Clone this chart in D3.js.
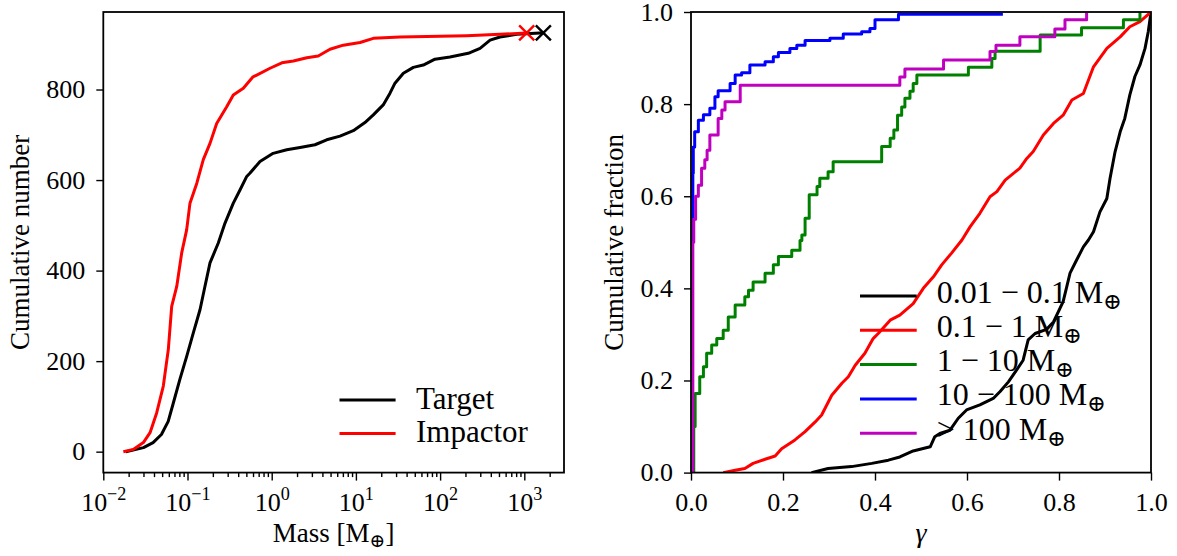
<!DOCTYPE html>
<html>
<head>
<meta charset="utf-8">
<script src="https://cdn.jsdelivr.net/npm/d3@7"></script>
<style>
body { margin: 0; background: #fff; }
svg, svg text { font-family: "Liberation Serif", "DejaVu Serif", serif; }
</style>
</head>
<body>
<div id="chart"></div>
<script>
// ---- left panel: cumulative number vs mass, [mass, count] ----
const targetCum = [[0.0185,0],[0.030,9],[0.039,20],[0.049,38],[0.059,67],[0.068,108],[0.081,159],[0.098,211],
  [0.117,262],[0.141,314],[0.161,365],[0.185,417],[0.232,461],[0.279,505],[0.350,549],[0.420,578],[0.505,608],
  [0.55,615],[0.726,641],[1.04,659],[1.51,667],[2.17,672],[3.27,678],[4.50,689],[6.47,697],[9.31,709],[12.8,727],
  [16.1,744],[21.1,766],[25.4,792],[29.1,814],[36.6,836],[48.1,849],[63.1,854],[86.9,867],[131,872],[216,880],
  [298,891],[392,909],[514,916],[813,922],[1535,925],[1683,925]]
const impactorCum = [[0.0173,0],[0.0227,5],[0.0299,20],[0.0359,42],[0.0431,86],[0.0516,145],[0.0592,226],
  [0.0649,321],[0.0745,365],[0.0853,439],[0.0977,490],[0.107,549],[0.129,593],[0.154,645],[0.185,681],[0.222,725],
  [0.292,762],[0.350,788],[0.460,803],[0.60,828],[0.664,832],[0.955,847],[1.32,859],[1.81,863],[2.61,870],
  [3.57,874],[4.92,889],[7.08,898],[11.2,904],[16.1,913],[33.4,916],[207,919],[514,922],[1067,925]]
const targetMax = [1683, 925]
const impactorMax = [1067, 925]
const massTicks = [-2, -1, 0, 1, 2, 3]
const countTicks = [0, 200, 400, 600, 800]
const massSeries = ["Target", "Impactor"]

// ---- right panel: cumulative fraction vs gamma, [gamma, fraction] ----
const gammaTicks = [0, 0.2, 0.4, 0.6, 0.8, 1.0]
const bin001 = [[0.262,0],[0.298,0.009],[0.349,0.013],[0.393,0.020],[0.429,0.027],[0.454,0.034],[0.483,0.047],
  [0.520,0.056],[0.530,0.078],[0.541,0.085],[0.563,0.092],[0.581,0.118],[0.599,0.136],[0.628,0.147],[0.657,0.161],
  [0.672,0.176],[0.690,0.197],[0.708,0.223],[0.722,0.244],[0.733,0.288],[0.748,0.302],[0.773,0.311],[0.788,0.327],
  [0.809,0.371],[0.824,0.433],[0.838,0.461],[0.853,0.490],[0.864,0.505],[0.875,0.523],[0.889,0.566],[0.904,0.595],
  [0.911,0.639],[0.922,0.697],[0.933,0.740],[0.943,0.769],[0.954,0.820],[0.965,0.860],[0.976,0.885],[0.987,0.921],
  [0.994,0.957],[1.0,1.0]]
const bin01 = [[0.070,0],[0.096,0.005],[0.117,0.009],[0.135,0.020],[0.161,0.029],[0.183,0.036],[0.197,0.052],
  [0.226,0.071],[0.248,0.089],[0.270,0.110],[0.284,0.125],[0.306,0.168],[0.328,0.194],[0.342,0.208],[0.357,0.233],
  [0.378,0.259],[0.396,0.291],[0.407,0.302],[0.433,0.331],[0.454,0.342],[0.483,0.367],[0.505,0.400],[0.527,0.425],
  [0.545,0.451],[0.566,0.476],[0.589,0.505],[0.607,0.534],[0.628,0.563],[0.650,0.599],[0.665,0.610],[0.683,0.635],
  [0.715,0.661],[0.730,0.682],[0.744,0.697],[0.766,0.733],[0.788,0.758],[0.809,0.776],[0.828,0.809],[0.853,0.823],
  [0.875,0.881],[0.904,0.921],[0.933,0.946],[0.954,0.968],[0.976,0.979],[1.0,1.0]]
const bin1 = [[0.005,0],[0.006,0.10],[0.009,0.172],[0.019,0.208],[0.027,0.230],[0.034,0.259],[0.045,0.277],
  [0.056,0.291],[0.070,0.309],[0.081,0.338],[0.096,0.364],[0.117,0.382],[0.125,0.396],[0.135,0.414],[0.161,0.433],
  [0.179,0.451],[0.190,0.469],[0.219,0.483],[0.237,0.504],[0.241,0.516],[0.248,0.552],[0.257,0.603],[0.274,0.621],
  [0.280,0.639],[0.298,0.653],[0.309,0.675],[0.4145,0.708],[0.433,0.726],[0.441,0.744],[0.449,0.776],[0.458,0.794],
  [0.465,0.813],[0.476,0.828],[0.483,0.845],[0.491,0.863],[0.603,0.880],[0.654,0.899],[0.661,0.915],[0.759,0.950],
  [0.849,0.966],[0.940,0.983],[0.976,1.0]]
const bin10 = [[0.002,0],[0.003,0.5],[0.004,0.65],[0.005,0.707],[0.008,0.74],[0.016,0.765],[0.027,0.777],
  [0.041,0.791],[0.052,0.816],[0.059,0.829],[0.085,0.845],[0.096,0.863],[0.110,0.868],[0.128,0.885],[0.161,0.892],
  [0.179,0.903],[0.190,0.912],[0.215,0.921],[0.230,0.928],[0.248,0.938],[0.302,0.943],[0.331,0.952],[0.371,0.957],
  [0.389,0.964],[0.400,0.983],[0.451,0.995],[0.678,0.995]]
const bin100 = [[0.003,0],[0.004,0.5],[0.006,0.55],[0.010,0.60],[0.016,0.624],[0.023,0.661],[0.030,0.679],
  [0.035,0.70],[0.041,0.733],[0.059,0.769],[0.067,0.787],[0.074,0.805],[0.107,0.841],[0.454,0.859],[0.465,0.876],
  [0.549,0.896],[0.650,0.914],[0.663,0.928],[0.715,0.946],[0.791,0.963],[0.813,0.983],[0.860,0.999]]
const binLabels = ["0.01 \u2212 0.1", "0.1 \u2212 1", "1 \u2212 10", "10 \u2212 100", "> 100"]
const binColors = ["#000000", "#ff0000", "#008000", "#0000ff", "#bf00bf"]

const W = 1177, H = 556
const plotTop = 12, plotBottom = 472.6
const serif = '"Liberation Serif", "DejaVu Serif", serif'

const svg = d3.select("#chart").append("svg")
    .attr("width", W)
    .attr("height", H)
    .attr("font-family", serif)

// writes "<prefix>M" followed by a subscript circled plus and an optional suffix
function earthMass(text, prefix, suffix, shift) {
    text.append("tspan").text(prefix + "M")
    text.append("tspan").attr("font-size", "70%").attr("dy", shift).text("\u2295")
    if (suffix) text.append("tspan").attr("dy", -shift).text(suffix)
}

function styleAxis(g) {
    g.attr("font-family", serif).attr("font-size", 26)
    g.select(".domain").remove()
    g.selectAll(".tick line").attr("stroke", "#000").attr("stroke-width", 1.4)
    g.selectAll(".tick text").attr("fill", "#000").attr("font-size", 26).attr("font-family", serif)
}

// ================= left panel =================
const xL = d3.scaleLog().domain([0.01, 2960]).range([103.3, 564])
const yL = d3.scaleLinear().domain([-46.25, 971.25]).range([plotBottom, plotTop])

svg.append("clipPath").attr("id", "clipL")
    .append("rect").attr("x", xL.range()[0]).attr("y", plotTop)
    .attr("width", xL.range()[1] - xL.range()[0]).attr("height", plotBottom - plotTop)

const minorMass = []
massTicks.forEach(e => { for (let k = 2; k <= 9; k++) { const v = k * Math.pow(10, e); if (v < 2960) minorMass.push(v) } })

svg.append("g")
    .attr("transform", "translate(0," + plotBottom + ")")
    .call(d3.axisBottom(xL).tickValues(minorMass).tickSize(4.5).tickFormat(""))
    .call(styleAxis)

const xAxisL = svg.append("g")
    .attr("transform", "translate(0," + plotBottom + ")")
    .call(d3.axisBottom(xL).tickValues(massTicks.map(e => Math.pow(10, e))).tickSize(8).tickPadding(12))
    .call(styleAxis)
xAxisL.selectAll(".tick text").each(function (d, i) {
    const t = d3.select(this).text(null).attr("dy", "0").attr("y", 38.5)
    t.append("tspan").text("10")
    t.append("tspan").attr("font-size", "70%").attr("dy", -11)
        .text(massTicks[i] < 0 ? "\u2212" + (-massTicks[i]) : String(massTicks[i]))
})

svg.append("g")
    .attr("transform", "translate(" + xL.range()[0] + ",0)")
    .call(d3.axisLeft(yL).tickValues(countTicks).tickSize(7).tickPadding(11))
    .call(styleAxis)

const lineL = d3.line().x(d => xL(d[0])).y(d => yL(d[1]))
const plotL = svg.append("g").attr("clip-path", "url(#clipL)")
plotL.append("path").datum(targetCum).attr("d", lineL)
    .attr("fill", "none").attr("stroke", "#000").attr("stroke-width", 3).attr("stroke-linejoin", "round")
plotL.append("path").datum(impactorCum).attr("d", lineL)
    .attr("fill", "none").attr("stroke", "#ff0000").attr("stroke-width", 3).attr("stroke-linejoin", "round")

const cross = d3.symbol().type(d3.symbolX).size(150)
svg.append("path").attr("d", cross)
    .attr("transform", "translate(" + xL(impactorMax[0]) + "," + yL(impactorMax[1]) + ")")
    .attr("stroke", "#ff0000").attr("stroke-width", 2.4).attr("fill", "none")
svg.append("path").attr("d", cross)
    .attr("transform", "translate(" + xL(targetMax[0]) + "," + yL(targetMax[1]) + ")")
    .attr("stroke", "#000").attr("stroke-width", 2.4).attr("fill", "none")

svg.append("rect")
    .attr("x", xL.range()[0]).attr("y", plotTop)
    .attr("width", xL.range()[1] - xL.range()[0]).attr("height", plotBottom - plotTop)
    .attr("fill", "none").attr("stroke", "#000").attr("stroke-width", 1.8)

const xLabL = svg.append("text")
    .attr("x", (xL.range()[0] + xL.range()[1]) / 2).attr("y", 541.5)
    .attr("text-anchor", "middle").attr("font-size", 27)
earthMass(xLabL, "Mass [", "]", 5)

svg.append("text")
    .attr("transform", "translate(29," + (plotTop + plotBottom) / 2 + ") rotate(-90)")
    .attr("text-anchor", "middle").attr("font-size", 27)
    .text("Cumulative number")

const legL = svg.append("g")
massSeries.forEach((name, i) => {
    const y = 400 + i * 33.5
    legL.append("line").attr("x1", 339.5).attr("x2", 395.6).attr("y1", y).attr("y2", y)
        .attr("stroke", i === 0 ? "#000" : "#ff0000").attr("stroke-width", 3)
    legL.append("text").attr("x", 416).attr("y", y + 8.5).attr("font-size", 31).text(name)
})

// ================= right panel =================
const xR = d3.scaleLinear().domain([0, 1]).range([691, 1151])
const yR = d3.scaleLinear().domain([0, 1]).range([plotBottom, plotTop])

svg.append("clipPath").attr("id", "clipR")
    .append("rect").attr("x", 691).attr("y", plotTop)
    .attr("width", 460).attr("height", plotBottom - plotTop)

svg.append("g")
    .attr("transform", "translate(0," + plotBottom + ")")
    .call(d3.axisBottom(xR).tickValues(gammaTicks).tickSize(8).tickPadding(12).tickFormat(d3.format(".1f")))
    .call(styleAxis)
    .call(g => g.selectAll(".tick text").attr("dy", "0").attr("y", 38.5))

svg.append("g")
    .attr("transform", "translate(691,0)")
    .call(d3.axisLeft(yR).tickValues(gammaTicks).tickSize(7).tickPadding(11).tickFormat(d3.format(".1f")))
    .call(styleAxis)

const lineLin = d3.line().x(d => xR(d[0])).y(d => yR(d[1]))
const lineStep = d3.line().x(d => xR(d[0])).y(d => yR(d[1])).curve(d3.curveStepAfter)
const binData = [bin001, bin01, bin1, bin10, bin100]
const plotR = svg.append("g").attr("clip-path", "url(#clipR)")
binData.forEach((data, i) => {
    plotR.append("path").datum(data)
        .attr("d", i < 2 ? lineLin : lineStep)
        .attr("fill", "none").attr("stroke", binColors[i]).attr("stroke-width", 3)
        .attr("stroke-linejoin", "round")
})

svg.append("rect")
    .attr("x", 691).attr("y", plotTop)
    .attr("width", 460).attr("height", plotBottom - plotTop)
    .attr("fill", "none").attr("stroke", "#000").attr("stroke-width", 1.8)

svg.append("text")
    .attr("x", 921).attr("y", 541.5)
    .attr("text-anchor", "middle").attr("font-size", 28).attr("font-style", "italic")
    .text("\u03b3")

svg.append("text")
    .attr("transform", "translate(623," + (plotTop + plotBottom) / 2 + ") rotate(-90)")
    .attr("text-anchor", "middle").attr("font-size", 27)
    .text("Cumulative fraction")

const legR = svg.append("g")
binLabels.forEach((lab, i) => {
    const y = 296 + i * 34.3
    legR.append("line").attr("x1", 860).attr("x2", 916.7).attr("y1", y).attr("y2", y)
        .attr("stroke", binColors[i]).attr("stroke-width", 3)
    const t = legR.append("text").attr("x", 936.7).attr("y", y + 6.5).attr("font-size", 32)
    earthMass(t, lab + " ", null, 6)
})
</script>
</body>
</html>
